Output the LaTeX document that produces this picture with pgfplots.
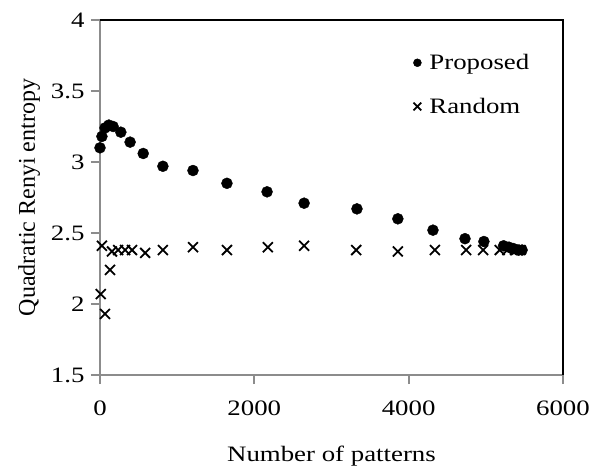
\documentclass[border=0pt]{standalone}
\usepackage{fontspec}
\setmainfont{Liberation Serif}[FakeStretch=1.22]
\newfontfamily\vfont{Liberation Serif}
\usepackage{pgfplots}
\pgfplotsset{compat=1.18}
\definecolor{axgray}{HTML}{8C8C8C}

\begin{document}
\begin{tikzpicture}
\path[use as bounding box] (-100pt,-92pt) rectangle (498pt,375pt);
\begin{axis}[
  scale only axis,
  width=463pt, height=355pt,
  xmin=0, xmax=6000,
  ymin=1.5, ymax=4,
  xtick={0,2000,4000,6000},
  ytick={1.5,2,2.5,3,3.5,4},
  axis lines=left,
  axis line style={axgray, line width=2.2pt, -},
  every tick/.style={axgray, line width=2pt},
  tick align=outside,
  major tick length=9pt,
  minor tick num=0,
  /pgf/number format/assume math mode=true,
  /pgf/number format/1000 sep={},
  tick label style={font=\fontsize{22}{24}\selectfont},
  xticklabel style={yshift=-13pt},
  yticklabel style={xshift=-3pt},
  xlabel={Number of patterns},
  xlabel style={font=\fontsize{22}{24}\selectfont, yshift=-24pt},
  ylabel={Quadratic Renyi entropy},
  ylabel style={font=\vfont\fontsize{24}{26}\selectfont, yshift=4pt},
  clip=false,
  legend style={
    at={(0.67,0.915)}, anchor=north west,
    draw=none, fill=none,
    font=\fontsize{22}{24}\selectfont,
    row sep=23pt,
  },
  legend cell align=left,
]
\draw[black, line width=2.4pt] (rel axis cs:0,1) -- (rel axis cs:1,1) -- (rel axis cs:1,0);

\addplot[only marks, mark=*, mark size=5.5pt, black,
  legend image post style={mark size=4pt}] coordinates {
  (0,3.10) (25,3.18) (65,3.24) (115,3.26) (170,3.25) (270,3.21)
  (390,3.14) (560,3.06) (815,2.97) (1205,2.94) (1645,2.85)
  (2165,2.79) (2645,2.71) (3330,2.67) (3860,2.60) (4315,2.52)
  (4730,2.46) (4975,2.44) (5230,2.41) (5300,2.40) (5360,2.39)
  (5420,2.38) (5470,2.38)
};
\addlegendentry{\hspace*{6pt}Proposed}

\addplot[only marks, mark=x, mark size=7pt, black, mark options={line width=1.8pt},
  legend image post style={mark size=5.5pt, line width=1.5pt}] coordinates {
  (10,2.07) (25,2.41) (65,1.93) (130,2.24) (155,2.37) (235,2.38)
  (325,2.38) (415,2.38) (585,2.36) (815,2.38) (1205,2.40)
  (1645,2.38) (2175,2.40) (2645,2.41) (3320,2.38) (3860,2.37)
  (4340,2.38) (4745,2.38) (4965,2.38) (5180,2.38) (5280,2.38)
  (5380,2.38) (5450,2.38)
};
\addlegendentry{\hspace*{6pt}Random}
\end{axis}
\end{tikzpicture}
\end{document}
